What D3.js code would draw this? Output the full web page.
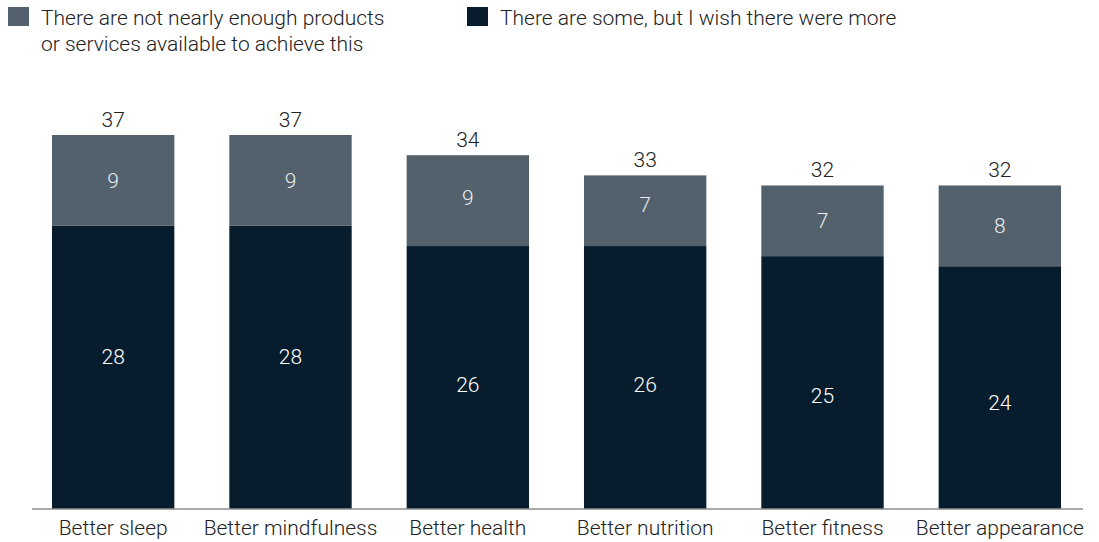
<!DOCTYPE html>
<html><head><meta charset="utf-8">
<script src="https://cdn.jsdelivr.net/npm/d3@7"></script>
<style>body{margin:0;background:#fff}svg{display:block}text{font-family:Roboto,"Liberation Sans",sans-serif;font-weight:300}</style>
</head><body>
<svg id="c" width="1099" height="542"></svg>
<script>
const categories = ["Better sleep","Better mindfulness","Better health","Better nutrition","Better fitness","Better appearance"];
const someButMore = [28,28,26,26,25,24];
const notNearlyEnough = [9,9,9,7,7,8];
const totals = [37,37,34,33,32,32];
const seriesNames = ["There are not nearly enough products\nor services available to achieve this","There are some, but I wish there were more"];
const colors = {light:"#52616b", dark:"#071c2c"};
// hand-placed label nudges in the original (layout only)
const nudge = {dark:[-11,-11,7,7,13,15], light:[0,0,-3,-6,0,0]};
const FS = 21;

const svg = d3.select("#c");
const x = d3.scaleBand().domain(categories).range([52,1061]).paddingInner(0.31).paddingOuter(0);
const y = d3.scaleLinear().domain([0,37]).range([508.5,135]);

const rows = categories.map((c,i)=>({cat:c, i:i, dark:someButMore[i], light:notNearlyEnough[i], total:totals[i]}));
const stacked = d3.stack().keys(["dark","light"])(rows);

const g = svg.append("g");
stacked.forEach(layer=>{
  g.selectAll(null).data(layer).enter().append("rect")
    .attr("x",d=>x(d.data.cat)).attr("width",x.bandwidth())
    .attr("y",d=>y(d[1])).attr("height",d=>y(d[0])-y(d[1]))
    .attr("fill",layer.key==="dark"?colors.dark:colors.light);
  g.selectAll(null).data(layer).enter().append("text")
    .attr("x",d=>x(d.data.cat)+x.bandwidth()/2)
    .attr("y",d=>(y(d[0])+y(d[1]))/2 + nudge[layer.key][d.data.i])
    .attr("dy","0.36em").attr("text-anchor","middle")
    .attr("font-size",FS).attr("fill",layer.key==="dark"?"#ffffff":"#e9ecee")
    .text(d=>d.data[layer.key]);
});
// totals
const topLayer = stacked[1];
g.selectAll(null).data(topLayer).enter().append("text")
  .attr("x",d=>x(d.data.cat)+x.bandwidth()/2)
  .attr("y",d=>y(d[1])-8)
  .attr("text-anchor","middle").attr("font-size",FS).attr("fill","#222")
  .text(d=>d.data.total);

// axis
const ax = svg.append("g").attr("transform","translate(0,508.5)")
  .call(d3.axisBottom(x).tickSize(0).tickPadding(26.5));
ax.select(".domain").attr("d","M32,0.5H1083").attr("stroke","#555").attr("stroke-width",1);
ax.selectAll(".tick text").attr("font-size",FS).attr("fill","#222").attr("dy","0")
  .style("font-family","Roboto,'Liberation Sans',sans-serif").style("font-weight",300);

// legend
const legend = [{name:seriesNames[0],color:colors.light,x:8},{name:seriesNames[1],color:colors.dark,x:467}];
legend.forEach(l=>{
  svg.append("rect").attr("x",l.x).attr("y",7).attr("width",21).attr("height",19).attr("fill",l.color);
  const t = svg.append("text").attr("x",l.x+33).attr("y",25).attr("font-size",FS).attr("fill","#222");
  l.name.split("\n").forEach((s,i)=>t.append("tspan").attr("x",l.x+33).attr("dy",i?26:0).text(s));
});
</script>
</body></html>
